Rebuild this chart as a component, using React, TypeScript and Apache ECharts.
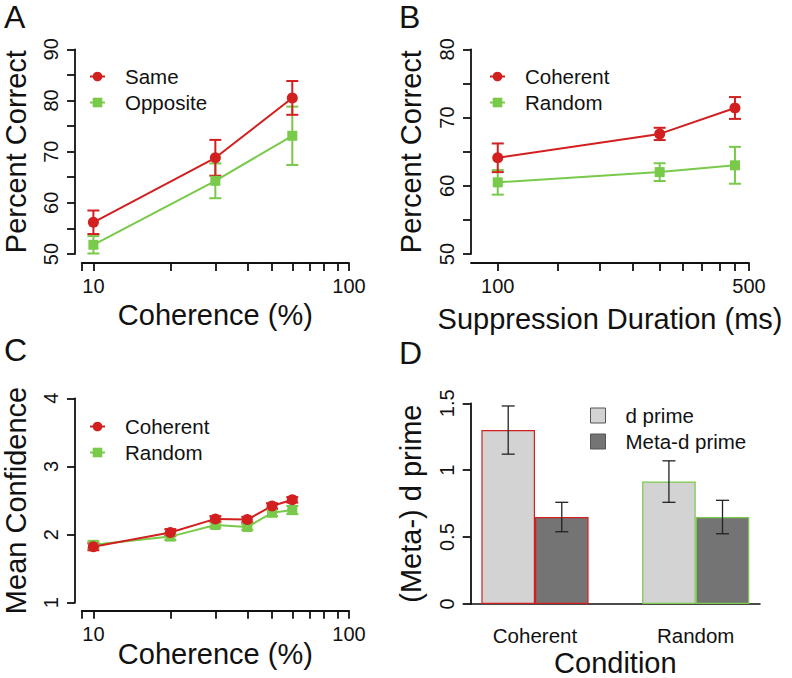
import React, { useEffect, useRef } from 'react';
import * as echarts from 'echarts';

const FONT = '"Liberation Sans", Arial, Helvetica, sans-serif';
const INK = '#111111';
const RED = '#d21f1f';
const GREEN = '#79c94a';

// ---- Panel A: Percent correct vs coherence ----
const cohA = [10, 30, 60];
const sameA = [56.2, 68.8, 80.5];
const sameErrA = [2.3, 3.5, 3.3];
const oppA = [51.8, 64.3, 73.1];
const oppErrA = [1.7, 3.4, 5.7];
const xTicksA = [9, 10, 20, 30, 40, 50, 60, 70, 80, 90, 100];
const xLabelValsA = [10, 100];
const xLabelTextA = ['10', '100'];

// ---- Panel B: Percent correct vs suppression duration ----
const durB = [100, 300, 500];
const cohB = [64.1, 67.6, 71.4];
const cohErrB = [2.1, 0.9, 1.6];
const randB = [60.5, 62.0, 63.0];
const randErrB = [1.8, 1.3, 2.7];
const xTicksB = [100, 150, 200, 250, 300, 350, 400, 450, 500, 550];
const xLabelValsB = [100, 550];
const xLabelTextB = ['100', '500'];

// ---- Panel C: Mean confidence vs coherence ----
const cohC = [10, 20, 30, 40, 50, 60];
const coherentC = [1.82, 2.03, 2.23, 2.22, 2.42, 2.51];
const coherentErrC = [0.05, 0.05, 0.04, 0.04, 0.04, 0.04];
const randomC = [1.85, 1.97, 2.14, 2.11, 2.32, 2.36];
const randomErrC = [0.05, 0.05, 0.04, 0.04, 0.05, 0.06];

// ---- Panel D: (Meta-) d prime by condition ----
const conditions = ['Coherent', 'Random'];
const conditionPos = [2, 5];
const dPrime = [1.30, 0.915];
const dPrimeErr = [0.18, 0.155];
const metaD = [0.65, 0.65];
const metaDErr = [0.11, 0.125];
const conditionBorder = [RED, GREEN];

const lg = (v: number) => Math.log10(v);

function labelFormatter(vals: number[], texts: string[], logScale: boolean) {
  return (v: number) => {
    let best = 0;
    let bd = Infinity;
    vals.forEach((x, i) => {
      const d = Math.abs((logScale ? lg(x) : x) - v);
      if (d < bd) { bd = d; best = i; }
    });
    return bd < 1e-6 ? texts[best] : '';
  };
}

function errRender(capHalf: number, color: string, width: number) {
  return (params: any, api: any) => {
    const x = api.value(0);
    const lo = api.value(1);
    const hi = api.value(2);
    const a = api.coord([x, lo]);
    const b = api.coord([x, hi]);
    const style = { stroke: color, lineWidth: width };
    return {
      type: 'group',
      children: [
        { type: 'line', shape: { x1: a[0], y1: a[1], x2: b[0], y2: b[1] }, style },
        { type: 'line', shape: { x1: a[0] - capHalf, y1: a[1], x2: a[0] + capHalf, y2: a[1] }, style },
        { type: 'line', shape: { x1: b[0] - capHalf, y1: b[1], x2: b[0] + capHalf, y2: b[1] }, style },
      ],
    };
  };
}

const axisLine = { show: true, onZero: false, lineStyle: { color: INK, width: 1.8 } };
const tickStyle = { color: INK, width: 1.8 };
const tickLabel = { fontSize: 20, color: INK, fontFamily: FONT };
const titleStyle = { fontSize: 29, color: INK, fontFamily: FONT };

function logXAxis(grid: number, min: number, max: number, ticks: number[], lv: number[], lt: string[], name: string, offset: number, nameGap: number) {
  return {
    gridIndex: grid, type: 'value', min: lg(min), max: lg(max), offset,
    axisLine,
    axisTick: { show: true, length: 8, lineStyle: tickStyle, customValues: ticks.map(lg) },
    axisLabel: { ...tickLabel, margin: 13, customValues: lv.map(lg), formatter: labelFormatter(lv, lt, true) },
    splitLine: { show: false },
    name, nameLocation: 'middle', nameGap, nameMoveOverlap: false, nameTextStyle: titleStyle,
  };
}

function yAxisDef(grid: number, min: number, max: number, interval: number, labelEvery: number, name: string, nameGap: number, decimals = false) {
  return {
    gridIndex: grid, type: 'value', min, max, interval,
    axisLine,
    axisTick: { show: true, length: 8, lineStyle: tickStyle },
    axisLabel: {
      ...tickLabel, rotate: 90, margin: 14,
      formatter: (v: number) => {
        const r = Math.round(v / labelEvery * 1000) / 1000;
        return Math.abs(r - Math.round(r)) < 1e-6 ? (decimals ? String(Math.round(v * 10) / 10) : String(Math.round(v))) : '';
      },
    },
    splitLine: { show: false },
    name, nameLocation: 'middle', nameGap, nameMoveOverlap: false, nameTextStyle: titleStyle,
  };
}

function hiddenAxis(grid: number, min: number, max: number) {
  return { gridIndex: grid, type: 'value', min, max, show: false, splitLine: { show: false } };
}

function lineSeries(name: string, grid: number, xs: number[], ys: number[], color: string, symbol: string, logX: boolean) {
  return {
    name, type: 'line', xAxisIndex: grid, yAxisIndex: grid,
    data: xs.map((x, i) => [logX ? lg(x) : x, ys[i]]),
    symbol, symbolSize: symbol === 'circle' ? 11 : 10,
    lineStyle: { color, width: 2 },
    itemStyle: { color },
    z: 3,
  };
}

function errSeries(grid: number, xs: number[], ys: number[], errs: number[], color: string, capHalf: number, width: number, logX: boolean, z = 2) {
  return {
    type: 'custom', xAxisIndex: grid, yAxisIndex: grid, silent: true,
    renderItem: errRender(capHalf, color, width),
    encode: { x: 0, y: [1, 2] },
    data: xs.map((x, i) => [logX ? lg(x) : x, ys[i] - errs[i], ys[i] + errs[i]]),
    z,
  };
}

function buildOption() {
  const legendBase = {
    orient: 'vertical', itemWidth: 15, itemHeight: 12, itemGap: 3, selectedMode: false, padding: 0,
    textStyle: { fontSize: 20.5, color: INK, fontFamily: FONT, padding: [0, 0, 0, 15], lineHeight: 23 },
  };
  return {
    animation: false,
    backgroundColor: '#ffffff',
    textStyle: { fontFamily: FONT },
    grid: [
      { left: 81.7, top: 49.3, width: 267.3, height: 204.7 },
      { left: 471, top: 49.3, width: 278, height: 204.7 },
      { left: 81.7, top: 398.3, width: 267.3, height: 204.4 },
      { left: 470.7, top: 403.3, width: 289.3, height: 207.7 },
      // frames that carry the detached left axes of panels A and C
      { left: 70.7, top: 49.3, width: 278.3, height: 204.7 },
      { left: 70.7, top: 398.3, width: 278.3, height: 204.4 },
    ],
    xAxis: [
      logXAxis(0, 9, 100, xTicksA, xLabelValsA, xLabelTextA, 'Coherence (%)', 9, 37),
      logXAxis(1, 83.4, 550, xTicksB, xLabelValsB, xLabelTextB, 'Suppression Duration (ms)', 9, 41),
      logXAxis(2, 9, 100, xTicksA, xLabelValsA, xLabelTextA, 'Coherence (%)', 8, 29),
      {
        gridIndex: 3, type: 'value', min: 0.8, max: 6.2,
        axisLine: { show: true, onZero: false, lineStyle: { color: INK, width: 1.5 } },
        axisTick: { show: false },
        axisLabel: { ...tickLabel, fontSize: 20.5, margin: 21, customValues: conditionPos, formatter: labelFormatter(conditionPos, conditions, false) },
        splitLine: { show: false },
        name: 'Condition', nameLocation: 'middle', nameGap: 44, nameMoveOverlap: false, nameTextStyle: titleStyle,
      },
      hiddenAxis(4, 0, 1),
      hiddenAxis(5, 0, 1),
    ],
    yAxis: [
      hiddenAxis(0, 50, 90),
      yAxisDef(1, 50, 80, 5, 10, 'Percent Correct', 46),
      hiddenAxis(2, 1, 4),
      yAxisDef(3, 0, 1.5, 0.5, 0.5, '(Meta-) d prime', 45, true),
      yAxisDef(4, 50, 90, 5, 10, 'Percent Correct', 45),
      yAxisDef(5, 1, 4, 1, 1, 'Mean Confidence', 45),
    ],
    legend: [
      { ...legendBase, left: 89, top: 65, data: ['Same', 'Opposite'] },
      { ...legendBase, left: 489, top: 65, data: ['Coherent', 'Random'] },
      { ...legendBase, left: 89, top: 415, data: ['Coherent', 'Random'] },
      {
        ...legendBase, left: 590, top: 404, icon: 'rect', itemWidth: 15, itemHeight: 15, itemGap: 3,
        textStyle: { ...legendBase.textStyle, padding: [0, 0, 0, 15] },
        data: [
          { name: 'd prime', itemStyle: { borderColor: '#555555', borderWidth: 1 } },
          { name: 'Meta-d prime', itemStyle: { borderColor: '#555555', borderWidth: 1 } },
        ],
      },
    ],
    graphic: [
      { type: 'text', left: 4, top: 1, style: { text: 'A', fontSize: 32, fontFamily: FONT, fill: INK } },
      { type: 'text', left: 399, top: 1, style: { text: 'B', fontSize: 32, fontFamily: FONT, fill: INK } },
      { type: 'text', left: 4, top: 334, style: { text: 'C', fontSize: 32, fontFamily: FONT, fill: INK } },
      { type: 'text', left: 399, top: 337, style: { text: 'D', fontSize: 32, fontFamily: FONT, fill: INK } },
    ],
    series: [
      // Panel A
      errSeries(0, cohA, oppA, oppErrA, GREEN, 6, 2, true),
      errSeries(0, cohA, sameA, sameErrA, RED, 6, 2, true),
      lineSeries('Opposite', 0, cohA, oppA, GREEN, 'rect', true),
      lineSeries('Same', 0, cohA, sameA, RED, 'circle', true),
      // Panel B
      errSeries(1, durB, randB, randErrB, GREEN, 6, 2, true),
      errSeries(1, durB, cohB, cohErrB, RED, 6, 2, true),
      lineSeries('Random', 1, durB, randB, GREEN, 'rect', true),
      lineSeries('Coherent', 1, durB, cohB, RED, 'circle', true),
      // Panel C
      errSeries(2, cohC, randomC, randomErrC, GREEN, 6, 2, true),
      errSeries(2, cohC, coherentC, coherentErrC, RED, 6, 2, true),
      lineSeries('Random', 2, cohC, randomC, GREEN, 'rect', true),
      lineSeries('Coherent', 2, cohC, coherentC, RED, 'circle', true),
      // Panel D
      {
        name: 'd prime', type: 'bar', xAxisIndex: 3, yAxisIndex: 3, barWidth: 53.6, barGap: '-100%',
        itemStyle: { color: '#d3d3d3', borderColor: '#555555', borderWidth: 1.2 },
        data: conditionPos.map((p, i) => ({ value: [p - 0.5, dPrime[i]], itemStyle: { borderColor: conditionBorder[i] } })),
        z: 2,
      },
      {
        name: 'Meta-d prime', type: 'bar', xAxisIndex: 3, yAxisIndex: 3, barWidth: 53.6, barGap: '-100%',
        itemStyle: { color: '#747474', borderColor: '#555555', borderWidth: 1.2 },
        data: conditionPos.map((p, i) => ({ value: [p + 0.5, metaD[i]], itemStyle: { borderColor: conditionBorder[i] } })),
        z: 2,
      },
      errSeries(3, conditionPos.map((p) => p - 0.5), dPrime, dPrimeErr, '#222222', 6.5, 1.3, false, 6),
      errSeries(3, conditionPos.map((p) => p + 0.5), metaD, metaDErr, '#222222', 6.5, 1.3, false, 6),
    ],
  };
}

export default function App() {
  const ref = useRef<HTMLDivElement>(null);
  useEffect(() => {
    if (!ref.current) return;
    const chart = echarts.init(ref.current, undefined, { renderer: 'svg' });
    chart.setOption(buildOption() as any);
    return () => chart.dispose();
  }, []);
  return (
    <div
      ref={ref}
      style={{ position: 'fixed', left: 0, top: 0, width: 792, height: 678, background: '#fff' }}
    />
  );
}
